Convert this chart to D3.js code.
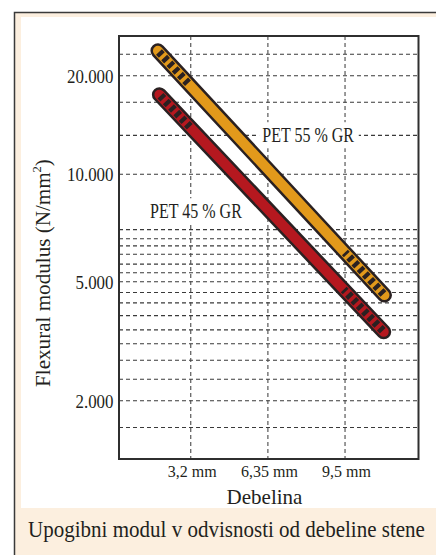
<!DOCTYPE html>
<html>
<head>
<meta charset="utf-8">
<script src="https://cdn.jsdelivr.net/npm/d3@7"></script>
<style>
  html, body { margin: 0; padding: 0; background: #fff; }
  svg { display: block; }
  text { font-family: "Liberation Serif", "Times New Roman", serif; fill: #231f20; }
</style>
</head>
<body>
<script>
// Wall thickness ticks (mm) and their labels
const thicknessTicks = [3.2, 6.35, 9.5];
const thicknessLabels = ["3,2 mm", "6,35 mm", "9,5 mm"];

// Labelled flexural modulus levels (N/mm²)
const modulusTicks = [20000, 10000, 5000, 2000];
const modulusLabels = ["20.000", "10.000", "5.000", "2.000"];

// Unlabelled horizontal grid levels (N/mm²)
const modulusGrid = [23250, 16600, 13150, 7000, 6600, 6300, 5970, 5600, 5300,
                     4600, 4250, 3850, 3450, 3100, 2730, 2360, 1630];

// Axis extents
const thicknessDomain = [0.27, 12.5];
const modulusDomain = [26400, 1280];

// Series: wall thickness (mm) and flexural modulus (N/mm²) at both ends of each band
const seriesNames = ["PET 55 % GR", "PET 45 % GR"];
const pet55Thickness = [1.86, 11.11];
const pet55Modulus = [23800, 4510];
const pet45Thickness = [1.92, 11.08];
const pet45Modulus = [17500, 3400];

// ---- layout ----
const W = 436, H = 555;
const plot = { left: 119, right: 418.5, top: 36, bottom: 459 };
const ph = plot.bottom - plot.top;
// where the labelled levels sit on the (hand-drawn) modulus axis, as fractions of plot height
const modulusStops = [0, 0.0939, 0.3270, 0.5809, 0.8622, 1];

const cream = "#fcefdf";
const ink = "#2a2122";
const gridInk = "#3a3a3a";
const seriesFill = ["#e2991b", "#b5181f"];

const svg = d3.select("body").append("svg")
  .attr("width", W).attr("height", H)
  .attr("viewBox", `0 0 ${W} ${H}`);

// framed panel: cream border, white chart area, caption strip below
svg.append("rect").attr("x", 14.5).attr("y", 12.5).attr("width", 440).attr("height", 560)
  .attr("fill", cream).attr("stroke", "#3a3a3a").attr("stroke-width", 1.5);
svg.append("rect").attr("x", 21).attr("y", 17).attr("width", 430).attr("height", 491)
  .attr("fill", "#fff");

// scales
const x = d3.scaleLinear().domain(thicknessDomain).range([plot.left, plot.right]);
const y = d3.scaleLog()
  .domain([modulusDomain[0], ...modulusTicks, modulusDomain[1]])
  .range(modulusStops.map(f => plot.top + f * ph));

// helper for condensed serif text
function label(parent, str, px, py, size, sx, anchor) {
  const g = parent.append("g").attr("transform", `translate(${px},${py}) scale(${sx},1)`);
  const t = g.append("text").attr("text-anchor", anchor || "start")
    .style("font-size", size + "px").text(str);
  return { g, t };
}

// grid
const grid = svg.append("g").attr("fill", "none");
grid.selectAll("line.h")
  .data([...modulusGrid, ...modulusTicks])
  .join("line").attr("class", "h")
  .attr("x1", plot.left).attr("x2", plot.right)
  .attr("y1", d => y(d)).attr("y2", d => y(d))
  .attr("stroke", gridInk).attr("stroke-width", 1.1).attr("stroke-dasharray", "4,3");
grid.selectAll("line.v")
  .data(thicknessTicks)
  .join("line").attr("class", "v")
  .attr("x1", d => x(d)).attr("x2", d => x(d))
  .attr("y1", plot.top).attr("y2", plot.bottom)
  .attr("stroke", "#4a4a4a").attr("stroke-width", 1.1).attr("stroke-dasharray", "4,3");

// series labels on white knock-out boxes
const labelAt = [[6.12, 13150], [1.54, 7870]];
seriesNames.forEach((name, i) => {
  const [tx, ty] = labelAt[i];
  const l = label(svg, name, x(tx), y(ty) + 6.5, 20, 0.8, "start");
  const bb = l.t.node().getBBox();
  l.g.insert("rect", "text")
    .attr("x", bb.x - 4).attr("y", bb.y - 2)
    .attr("width", bb.width + 9).attr("height", bb.height + 4)
    .attr("fill", "#fff");
});

// bands
const lineGen = d3.line();
function band(xs, ys, fill) {
  const p0 = [x(xs[0]), y(ys[0])];
  const p1 = [x(xs[1]), y(ys[1])];
  const len = Math.hypot(p1[0] - p0[0], p1[1] - p0[1]);
  const ux = (p1[0] - p0[0]) / len, uy = (p1[1] - p0[1]) / len;
  const at = s => [p0[0] + ux * s, p0[1] + uy * s];
  const g = svg.append("g").attr("fill", "none");
  g.append("path").attr("d", lineGen([p0, p1]))
    .attr("stroke", ink).attr("stroke-width", 15).attr("stroke-linecap", "round");
  g.append("path").attr("d", lineGen([p0, p1]))
    .attr("stroke", fill).attr("stroke-width", 10).attr("stroke-linecap", "round");
  // ladder marks at both ends
  [[at(1.5), at(47)], [at(len - 1.5), at(len - 58.2)]].forEach(seg => {
    g.append("path").attr("d", lineGen(seg))
      .attr("stroke", ink).attr("stroke-width", 8)
      .attr("stroke-dasharray", "4.2,3.5").attr("stroke-linecap", "butt");
  });
}
band(pet55Thickness, pet55Modulus, seriesFill[0]);
band(pet45Thickness, pet45Modulus, seriesFill[1]);

// plot frame
svg.append("rect")
  .attr("x", plot.left).attr("y", plot.top)
  .attr("width", plot.right - plot.left).attr("height", ph)
  .attr("fill", "none").attr("stroke", "#2f2f2f").attr("stroke-width", 2);

// modulus tick labels
modulusTicks.forEach((v, i) => {
  label(svg, modulusLabels[i], plot.left - 5.5, y(v) + 7, 19, 0.89, "end");
});

// thickness tick labels
thicknessTicks.forEach((v, i) => {
  label(svg, thicknessLabels[i], x(v) + 1.5, 476.5, 16, 1, "middle");
});

// axis titles
label(svg, "Debelina", 264.5, 504, 21, 1, "middle");

const yt = svg.append("g").attr("transform", "translate(49.5,273) rotate(-90) scale(0.96,1)");
const ytt = yt.append("text").attr("text-anchor", "middle").style("font-size", "22px");
ytt.append("tspan").text("Flexural modulus (N/mm");
ytt.append("tspan").attr("dy", -9).style("font-size", "13px").text("2");
ytt.append("tspan").attr("dy", 9).text(")");

// caption
label(svg, "Upogibni modul v odvisnosti od debeline stene", 226.5, 537, 22.5, 0.934, "middle");
</script>
</body>
</html>
